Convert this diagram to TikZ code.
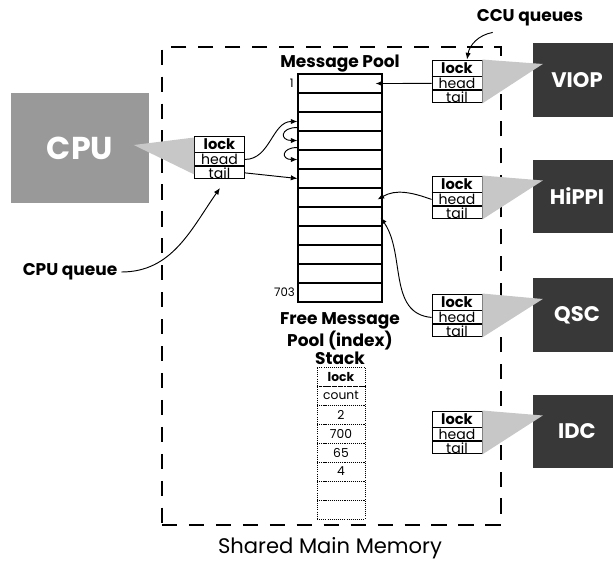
\documentclass[tikz,border=0pt]{standalone}
\usepackage{fontspec}
\setmainfont{Poppins}
\usetikzlibrary{arrows.meta, positioning, calc}

\begin{document}
\begin{tikzpicture}[
  x=0.03cm, y=-0.03cm,
  cell/.style={rectangle, draw, line width=0.9pt, minimum width=2.52cm, minimum height=0.57cm, inner sep=0pt},
  qcell/.style={rectangle, draw, line width=0.8pt, minimum width=1.5cm, inner sep=0pt, font=\fontsize{12}{12}\selectfont},
  lockcell/.style={qcell, minimum height=0.48cm, font=\fontsize{12.5}{12.5}\selectfont\bfseries},
  headcell/.style={qcell, minimum height=0.39cm},
  tailcell/.style={qcell, minimum height=0.36cm},
  stk/.style={rectangle, draw, densely dotted, line width=0.8pt, minimum width=1.44cm, minimum height=0.57cm, inner sep=0pt, font=\fontsize{10.5}{10.5}\selectfont},
  dev/.style={rectangle, fill=black!78, text=white, minimum width=2.64cm, minimum height=2.2cm, font=\fontsize{18}{18}\selectfont\bfseries},
  wedge/.style={fill=black!22},
  lbl/.style={font=\fontsize{14.5}{16}\selectfont\bfseries},
  num/.style={font=\fontsize{10}{10}\selectfont, inner sep=1pt},
  arrow/.style={-{Latex[length=2mm, width=1.6mm]}, line width=0.8pt},
]
\useasboundingbox (0,0) rectangle (613,564);

% shared memory frame
\node[draw, dashed, dash pattern=on 13pt off 10pt, line width=1pt, minimum width=10.17cm, minimum height=14.34cm] (shm) at (331.5,286) {};
\node[font=\fontsize{18}{20}\selectfont] (shmlbl) at (330,548) {Shared Main Memory};

% processors and devices
\node[rectangle, fill=black!40, text=white, minimum width=4.11cm, minimum height=3.3cm, font=\fontsize{27}{27}\selectfont\bfseries] (cpu) at (80,148) {CPU};
\node[dev] (viop) at (577,80) {VIOP};
\node[dev] (hippi) at (577,196.5) {HiPPI};
\node[dev] (qsc) at (577,315) {QSC};
\node[dev] (idc) at (577,431.5) {IDC};

% message pool
\node[lbl] (mplbl) at (340,64) {Message Pool};
\foreach \i in {1,...,12}
  \node[cell] (p\i) at (340,{83.5+19*(\i-1)}) {};
\node[num, left=2pt of p1] (n1) {1};
\node[num, left=1pt of p12] (n703) {703};

% free message pool stack
\node[lbl, align=center] (fmp) at (340,339) {Free Message\\Pool (index)\\Stack};
\foreach \t [count=\i] in {{\bfseries lock},count,2,700,65,4,{},{}}
  \node[stk] (s\i) at (341,{376.5+19*(\i-1)}) {\t};
\draw[densely dotted, line width=1.6pt] (s1.south west) -- (s1.south east);

% cpu queue
\node[lockcell] (cq-lock) at (219.5,144) {lock};
\node[headcell, below=0pt of cq-lock] (cq-head) {head};
\node[tailcell, below=0pt of cq-head] (cq-tail) {tail};
\draw[line width=1.6pt] (cq-lock.south west) -- (cq-lock.south east);

% ccu queues
\node[lockcell] (vq-lock) at (457,68) {lock};
\node[headcell, below=0pt of vq-lock] (vq-head) {head};
\node[tailcell, below=0pt of vq-head] (vq-tail) {tail};
\draw[line width=1.6pt] (vq-lock.south west) -- (vq-lock.south east);

\node[lockcell] (hq-lock) at (457,184) {lock};
\node[headcell, below=0pt of hq-lock] (hq-head) {head};
\node[tailcell, below=0pt of hq-head] (hq-tail) {tail};
\draw[line width=1.6pt] (hq-lock.south west) -- (hq-lock.south east);

\node[lockcell] (qq-lock) at (457,302) {lock};
\node[headcell, below=0pt of qq-lock] (qq-head) {head};
\node[tailcell, below=0pt of qq-head] (qq-tail) {tail};
\draw[line width=1.6pt] (qq-lock.south west) -- (qq-lock.south east);

\node[lockcell] (iq-lock) at (457,419) {lock};
\node[headcell, below=0pt of iq-lock] (iq-head) {head};
\node[tailcell, below=0pt of iq-head] (iq-tail) {tail};
\draw[line width=1.6pt] (iq-lock.south west) -- (iq-lock.south east);

% wedges
\fill[wedge] ($(cpu.east)+(-15,-3)$) -- ($(cq-lock.north west)+(0,2)$) -- ($(cq-tail.south west)+(0,-5)$) -- cycle;
\fill[wedge] ($(viop.west)+(10,-16)$) -- (vq-lock.north east) -- (vq-tail.south east) -- cycle;
\fill[wedge] ($(hippi.west)+(10,-16)$) -- (hq-lock.north east) -- (hq-tail.south east) -- cycle;
\fill[wedge] ($(qsc.west)+(10,-16)$) -- (qq-lock.north east) -- (qq-tail.south east) -- cycle;
\fill[wedge] ($(idc.west)+(10,-16)$) -- (iq-lock.north east) -- (iq-tail.south east) -- cycle;

% labels
\node[lbl] (cpuq) at (70,272) {CPU queue};
\coordinate (cqtip) at (220,188);
\node[lbl] (ccu) at (530,18) {CCU queues};

% links
\draw[arrow] (cq-head.east) to[out=0,in=180] (p3.west);
\draw[arrow] ($(p3.west)+(0,6)$) to[out=180,in=180,looseness=3.5] (p4.west);
\draw[arrow] ($(p4.west)+(0,7)$) to[out=180,in=180,looseness=3.5] (p5.west);
\draw[arrow] (cq-tail.east) -- (p6.west);
\draw[arrow] (vq-head.west) -- ($(p1.east)+(-7,0)$);
\draw[arrow] (hq-head.west) to[out=160,in=30] ($(p7.east)+(-5,2)$);
\draw[arrow] (qq-head.west) to[out=175,in=-55] ($(p8.east)+(-2,1)$);
\draw[arrow] (cpuq.east) to[out=0,in=235] (cqtip);
\draw[arrow] ($(ccu.south west)+(20,2)$) to[out=190,in=80] ($(vq-lock.north)+(10,0)$);

\end{tikzpicture}
\end{document}
